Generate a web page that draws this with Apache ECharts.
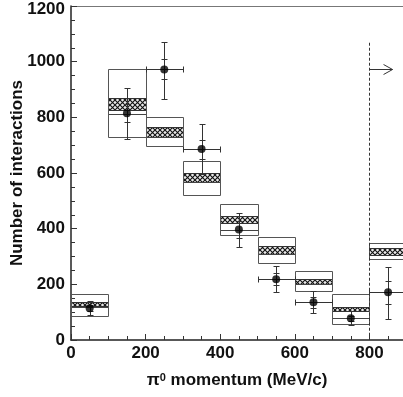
<!DOCTYPE html>
<html>
<head>
<meta charset="utf-8">
<script src="https://cdn.jsdelivr.net/npm/echarts@6/dist/echarts.min.js"></script>
<style>
html, body { margin: 0; padding: 0; background: #fff; }
#chart { width: 403px; height: 397px; }
</style>
</head>
<body>
<div id="chart"></div>
<script>
// bins (MeV/c), each 100 wide
const binLo = [0, 100, 200, 300, 400, 500, 600, 700, 800];
const binWidth = 100;
// open boxes
const boxLo = [87, 730, 696, 522, 377, 276, 176, 56, 290];
const boxHi = [164, 973, 802, 642, 487, 371, 248, 164, 347];
// hatched bands
const bandLo = [122, 828, 730, 566, 420, 310, 202, 103, 305];
const bandHi = [136, 868, 766, 601, 445, 336, 220, 118, 331];
// line inside box
const boxLine = [120, 813, 730, 566, 397, 310, 202, 78, 290];

// data points
const ptX = [50, 150, 250, 350, 450, 550, 650, 750, 850];
const ptY = [114, 815, 972, 686, 397, 218, 136, 78, 172];
const errLo = [89, 722, 865, 596, 335, 172, 96, 53, 75];
const errHi = [141, 904, 1072, 777, 455, 266, 177, 104, 263];
const statLo = [104, 783, 936, 652, 367, 196, 116, 68, 128];
const statHi = [124, 847, 1008, 718, 427, 240, 156, 88, 212];
const hasXErr = [0, 0, 1, 1, 0, 1, 1, 0, 1];

// cut marker
const cutX = 800;
const cutTop = 1068;
const arrowY = 972;
const arrowEnd = 862;

const yTicks = [0, 200, 400, 600, 800, 1000, 1200];

function makeHatch() {
    const c = document.createElement('canvas');
    c.width = 5; c.height = 5;
    const g = c.getContext('2d');
    g.fillStyle = '#e8e8e8';
    g.fillRect(0, 0, 5, 5);
    g.strokeStyle = '#111';
    g.lineWidth = 1.1;
    g.beginPath();
    g.moveTo(0, 0); g.lineTo(5, 5);
    g.moveTo(5, 0); g.lineTo(0, 5);
    g.stroke();
    return c;
}
const hatch = makeHatch();

const crisp = v => Math.round(v) + 0.5;

const boxData = binLo.map((b, i) => [b, boxLo[i], boxHi[i], bandLo[i], bandHi[i], boxLine[i]]);
const errData = ptX.map((x, i) => [x, ptY[i], errLo[i], errHi[i], statLo[i], statHi[i], hasXErr[i]]);

function renderBox(params, api) {
    const x0 = crisp(api.coord([api.value(0), 0])[0]);
    const x1 = crisp(api.coord([api.value(0) + binWidth, 0])[0]);
    const yB = crisp(api.coord([0, api.value(1)])[1]);
    const yT = crisp(api.coord([0, api.value(2)])[1]);
    const bB = crisp(api.coord([0, api.value(3)])[1]);
    const bT = crisp(api.coord([0, api.value(4)])[1]);
    const yl = crisp(api.coord([0, api.value(5)])[1]);
    return {
        type: 'group',
        children: [
            { type: 'rect', shape: { x: x0, y: bT, width: x1 - x0, height: bB - bT },
              style: { fill: { image: hatch, repeat: 'repeat' }, stroke: '#333', lineWidth: 1 } },
            { type: 'line', shape: { x1: x0, y1: yl, x2: x1, y2: yl },
              style: { stroke: '#444', lineWidth: 1 } },
            { type: 'rect', shape: { x: x0, y: yT, width: x1 - x0, height: yB - yT },
              style: { fill: 'none', stroke: '#555', lineWidth: 1 } }
        ]
    };
}

function renderErr(params, api) {
    const c = api.coord([api.value(0), api.value(1)]);
    const x = crisp(c[0]), y = crisp(c[1]);
    const lo = crisp(api.coord([0, api.value(2)])[1]);
    const hi = crisp(api.coord([0, api.value(3)])[1]);
    const slo = crisp(api.coord([0, api.value(4)])[1]);
    const shi = crisp(api.coord([0, api.value(5)])[1]);
    const st = { stroke: '#333', lineWidth: 1 };
    const w = 3;
    const kids = [
        { type: 'line', shape: { x1: x, y1: hi, x2: x, y2: lo }, style: st },
        { type: 'line', shape: { x1: x - w, y1: hi, x2: x + w, y2: hi }, style: st },
        { type: 'line', shape: { x1: x - w, y1: lo, x2: x + w, y2: lo }, style: st },
        { type: 'line', shape: { x1: x - w, y1: shi, x2: x + w, y2: shi }, style: st },
        { type: 'line', shape: { x1: x - w, y1: slo, x2: x + w, y2: slo }, style: st }
    ];
    if (api.value(6)) {
        const xl = crisp(api.coord([api.value(0) - binWidth / 2, 0])[0]);
        const xr = crisp(api.coord([api.value(0) + binWidth / 2, 0])[0]);
        kids.push({ type: 'line', shape: { x1: xl, y1: y, x2: xr, y2: y }, style: st });
        kids.push({ type: 'line', shape: { x1: xl, y1: y - w, x2: xl, y2: y + w }, style: st });
        kids.push({ type: 'line', shape: { x1: xr, y1: y - w, x2: xr, y2: y + w }, style: st });
    }
    return { type: 'group', children: kids };
}

function renderCut(params, api) {
    const x = crisp(api.coord([cutX, 0])[0]);
    const yb = api.coord([cutX, 0])[1];
    const yt = api.coord([cutX, cutTop])[1];
    const ay = crisp(api.coord([cutX, arrowY])[1]);
    const ax = api.coord([arrowEnd, arrowY])[0];
    const st = { stroke: '#333', lineWidth: 1 };
    return {
        type: 'group',
        children: [
            { type: 'line', shape: { x1: x, y1: yt, x2: x, y2: yb },
              style: { stroke: '#333', lineWidth: 1, lineDash: [3, 2] } },
            { type: 'line', shape: { x1: x, y1: ay, x2: ax, y2: ay }, style: st },
            { type: 'polyline', shape: { points: [[ax - 9, ay - 5], [ax, ay], [ax - 9, ay + 5]] },
              style: { stroke: '#333', lineWidth: 1, fill: 'none' } }
        ]
    };
}

const labelFont = { color: '#111', fontSize: 17, fontWeight: 'bold', fontFamily: 'Liberation Sans, Arial, sans-serif' };

const chart = echarts.init(document.getElementById('chart'), null, { renderer: 'canvas' });
chart.setOption({
    animation: false,
    backgroundColor: '#fff',
    grid: { left: 71, right: 0, top: 6, bottom: 57, containLabel: false, outerBoundsMode: 'none' },
    xAxis: [{
        type: 'value',
        min: 0, max: 890, interval: 200,
        name: '{a|π}{s|0}{a| momentum (MeV/c)}',
        nameLocation: 'middle',
        nameGap: 32,
        nameMoveOverlap: false,
        nameTextStyle: {
            rich: {
                a: Object.assign({}, labelFont),
                s: Object.assign({}, labelFont, { fontSize: 11, verticalAlign: 'top', padding: [0, 0, 6, 0] })
            }
        },
        axisLine: { lineStyle: { color: '#222', width: 1.5 } },
        axisTick: { inside: true, length: 6, lineStyle: { color: '#333' } },
        minorTick: { show: true, splitNumber: 4, length: 4, lineStyle: { color: '#333' } },
        axisLabel: Object.assign({ margin: 5, showMaxLabel: false, formatter: v => String(v) }, labelFont),
        splitLine: { show: false }
    }, {
        type: 'value', position: 'top', min: 0, max: 890,
        axisLine: { show: true, onZero: false, lineStyle: { color: '#777', width: 1 } },
        axisTick: { show: false }, axisLabel: { show: false }, splitLine: { show: false }
    }],
    yAxis: {
        type: 'value',
        min: yTicks[0], max: yTicks[yTicks.length - 1], interval: 200,
        name: 'Number of interactions',
        nameLocation: 'middle',
        nameGap: 45,
        nameRotate: 90,
        nameMoveOverlap: false,
        nameTextStyle: labelFont,
        axisLine: { show: true, lineStyle: { color: '#222', width: 1.5 } },
        axisTick: { inside: true, length: 6, lineStyle: { color: '#333' } },
        minorTick: { show: true, splitNumber: 4, length: 4, lineStyle: { color: '#333' } },
        axisLabel: Object.assign({
            margin: 6,
            formatter: v => v === yTicks[yTicks.length - 1] ? '{t|' + v + '}' : String(v),
            rich: { t: Object.assign({}, labelFont, { padding: [6, 0, 0, 0] }) }
        }, labelFont),
        splitLine: { show: false }
    },
    series: [
        { type: 'custom', renderItem: renderBox, data: boxData, encode: { x: 0, y: [1, 2] }, clip: true, z: 2 },
        { type: 'custom', renderItem: renderErr, data: errData, encode: { x: 0, y: [2, 3] }, clip: true, z: 3 },
        { type: 'custom', renderItem: renderCut, data: [[cutX, cutTop]], encode: { x: 0, y: 1 }, clip: true, z: 3 },
        {
            type: 'scatter',
            data: ptX.map((x, i) => [x, ptY[i]]),
            symbol: 'circle', symbolSize: 8,
            itemStyle: { color: '#000' },
            z: 4
        }
    ]
});
</script>
</body>
</html>
